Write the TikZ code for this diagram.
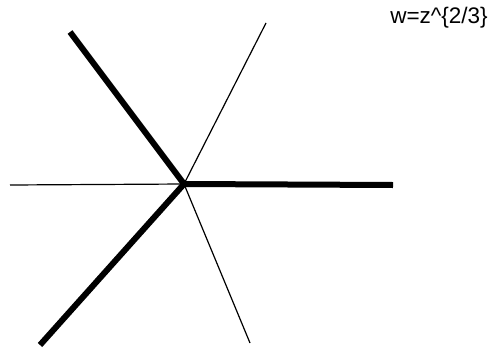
\documentclass[tikz,border=0pt]{standalone}
\usepackage{fontspec}
\setmainfont{Liberation Sans}
\begin{document}
\begin{tikzpicture}[x=1pt,y=-1pt,
  thickray/.style={line width=6pt, line cap=butt},
  thinray/.style={line width=1.2pt},
  lbl/.style={font=\fontsize{22.5}{24}\selectfont, inner sep=0pt}]
\useasboundingbox (0,0) rectangle (494,348);
\coordinate (o) at (184,184);
\coordinate (ul) at (70,32);
\coordinate (r) at (393,185);
\coordinate (ll) at (40,345);
\coordinate (ur) at (266,23);
\coordinate (l) at (10,185);
\coordinate (lr) at (250,343);
\draw[thinray] (o) -- (ur);
\draw[thinray] (o) -- (l);
\draw[thinray] (o) -- (lr);
\draw[thickray] (o) -- (ul);
\draw[thickray] (o) -- (r);
\draw[thickray] (o) -- (ll);
\node[lbl] (t) at (439,18) {w=z\^{}\{2/3\}};
\end{tikzpicture}
\end{document}
